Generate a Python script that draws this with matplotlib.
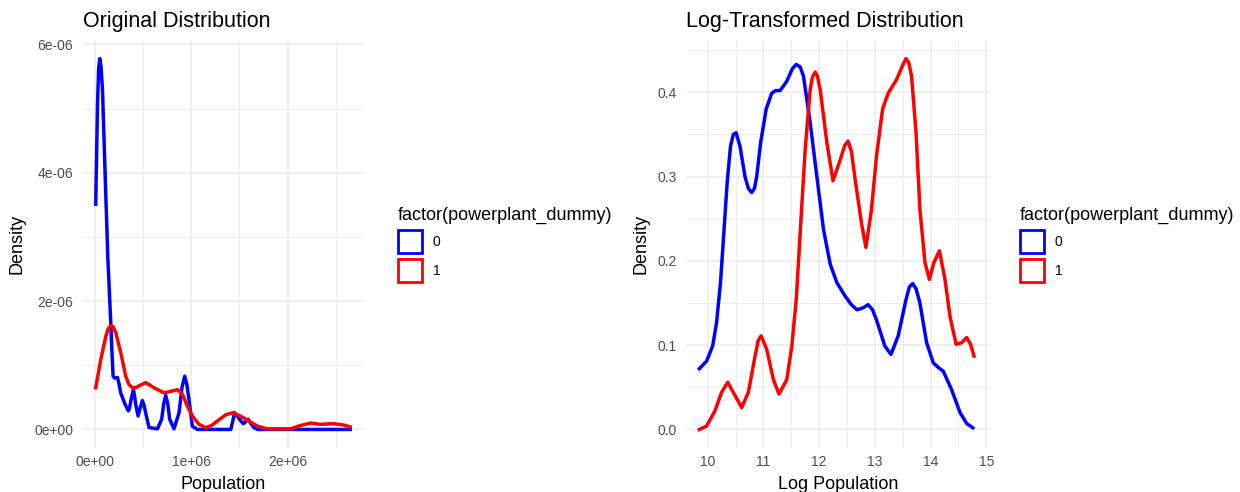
import matplotlib.pyplot as plt
from matplotlib.patches import Patch

plt.rcParams['font.family'] = ['Liberation Sans', 'DejaVu Sans']

# density of raw population (x in millions, y in 1e-6), group 0 / group 1
pop_x0 = [0.010, 0.028, 0.040, 0.052, 0.065, 0.080, 0.107, 0.135, 0.166, 0.180, 0.190,
          0.205, 0.235, 0.250, 0.269, 0.314, 0.349, 0.362, 0.373, 0.401, 0.413, 0.425,
          0.449, 0.470, 0.494, 0.510, 0.528, 0.563, 0.650, 0.694, 0.715, 0.736, 0.757,
          0.777, 0.822, 0.874, 0.905, 0.933, 0.955, 0.977, 1.012, 1.064, 1.41, 1.43,
          1.45, 1.47, 1.495, 1.54, 1.565, 1.59, 1.62, 1.65, 1.69, 2.65]
pop_y0 = [3.51, 5.04, 5.62, 5.78, 5.65, 5.30, 4.00, 2.70, 1.66, 1.15, 0.83,
          0.80, 0.81, 0.72, 0.57, 0.39, 0.29, 0.34, 0.44, 0.62, 0.52, 0.39,
          0.21, 0.33, 0.45, 0.38, 0.26, 0.03, 0.01, 0.16, 0.40, 0.53, 0.40,
          0.16, 0.01, 0.26, 0.66, 0.83, 0.70, 0.47, 0.05, 0.0, 0.0, 0.12,
          0.26, 0.23, 0.17, 0.09, 0.12, 0.16, 0.09, 0.03, 0.0, 0.0]
pop_x1 = [0.010, 0.062, 0.114, 0.140, 0.166, 0.190, 0.218, 0.269, 0.321, 0.355, 0.39,
          0.425, 0.459, 0.528, 0.615, 0.718, 0.805, 0.857, 0.909, 0.961, 1.012, 1.081,
          1.15, 1.21, 1.27, 1.36, 1.43, 1.51, 1.60, 1.69, 1.79, 2.03, 2.13, 2.24, 2.34,
          2.48, 2.58, 2.65]
pop_y1 = [0.65, 1.09, 1.45, 1.57, 1.62, 1.60, 1.51, 1.20, 0.83, 0.70, 0.65,
          0.65, 0.68, 0.73, 0.65, 0.57, 0.60, 0.62, 0.55, 0.36, 0.21, 0.08,
          0.03, 0.06, 0.13, 0.23, 0.26, 0.21, 0.13, 0.05, 0.01, 0.01, 0.06, 0.10, 0.08,
          0.09, 0.07, 0.04]

# density of log population, group 0 / group 1
log_x0 = [9.85, 9.98, 10.09, 10.16, 10.23, 10.29, 10.35, 10.41, 10.46, 10.51, 10.58, 10.67,
          10.73, 10.79, 10.84, 10.88, 10.95, 11.05, 11.15, 11.22, 11.30, 11.42, 11.52,
          11.59, 11.66, 11.72, 11.84, 11.96, 12.08, 12.20, 12.32, 12.47, 12.58, 12.68,
          12.78, 12.88, 12.96, 13.03, 13.18, 13.29, 13.42, 13.56, 13.62, 13.68, 13.74,
          13.81, 13.93, 14.05, 14.15, 14.23, 14.38, 14.53, 14.65, 14.76]
log_y0 = [0.072, 0.081, 0.099, 0.127, 0.174, 0.233, 0.293, 0.336, 0.350, 0.352, 0.336, 0.300,
          0.286, 0.281, 0.286, 0.300, 0.340, 0.380, 0.399, 0.402, 0.402, 0.413, 0.428,
          0.433, 0.430, 0.419, 0.364, 0.300, 0.237, 0.196, 0.174, 0.158, 0.148, 0.142,
          0.144, 0.148, 0.142, 0.130, 0.099, 0.089, 0.111, 0.154, 0.169, 0.173, 0.167,
          0.150, 0.103, 0.079, 0.073, 0.069, 0.047, 0.020, 0.007, 0.002]
log_x1 = [9.85, 9.98, 10.13, 10.25, 10.36, 10.46, 10.61, 10.73, 10.85, 10.91, 10.96, 11.06,
          11.18, 11.28, 11.42, 11.51, 11.59, 11.66, 11.75, 11.84, 11.88, 11.93, 11.97,
          12.02, 12.14, 12.25, 12.38, 12.46, 12.52, 12.58, 12.64, 12.76, 12.84, 12.94,
          13.03, 13.14, 13.24, 13.39, 13.50, 13.56, 13.61, 13.66, 13.74, 13.81, 13.90,
          13.98, 14.06, 14.16, 14.26, 14.35, 14.46, 14.56, 14.65, 14.72, 14.78]
log_y1 = [0.0, 0.004, 0.022, 0.044, 0.056, 0.044, 0.026, 0.044, 0.087, 0.106, 0.111, 0.095,
          0.059, 0.042, 0.059, 0.099, 0.154, 0.233, 0.332, 0.403, 0.418, 0.424, 0.419,
          0.403, 0.340, 0.295, 0.320, 0.337, 0.342, 0.330, 0.300, 0.245, 0.216, 0.261,
          0.324, 0.380, 0.399, 0.415, 0.432, 0.440, 0.435, 0.419, 0.352, 0.261, 0.198,
          0.178, 0.198, 0.212, 0.178, 0.134, 0.101, 0.103, 0.109, 0.101, 0.087]

groups = ['0', '1']
colors = ['#0000FF', '#FF0000']

pop_ticks = [0.0, 1.0, 2.0]
pop_ticklabels = ['0e+00', '1e+06', '2e+06']
pop_yticks = [0, 2, 4, 6]
pop_yticklabels = ['0e+00', '2e-06', '4e-06', '6e-06']
log_ticks = [10, 11, 12, 13, 14, 15]
log_yticks = [0.0, 0.1, 0.2, 0.3, 0.4]
log_yticklabels = ['0.0', '0.1', '0.2', '0.3', '0.4']

W, H = 1240, 492
fig = plt.figure(figsize=(W / 100, H / 100), dpi=100)

grid_col = '#EBEBEB'
tick_col = '#4D4D4D'


def style_axes(ax, xmaj, xmin, ymaj, ymin):
    for s in ax.spines.values():
        s.set_visible(False)
    ax.set_xticks(xmaj)
    ax.set_xticks(xmin, minor=True)
    ax.set_yticks(ymaj)
    ax.set_yticks(ymin, minor=True)
    ax.grid(True, which='major', color=grid_col, lw=1.1)
    ax.grid(True, which='minor', color=grid_col, lw=0.6)
    ax.set_axisbelow(True)
    ax.tick_params(which='both', length=0, labelsize=10, labelcolor=tick_col)
    ax.tick_params(axis='y', pad=7)
    ax.tick_params(axis='x', pad=5)


def add_legend(ax, fx):
    handles = [Patch(facecolor='white', edgecolor=c, lw=2.0) for c in colors]
    leg = ax.legend(handles, groups, title='factor(powerplant_dummy)', loc='upper left',
                    bbox_to_anchor=(fx / W, 1 - 200 / H), bbox_transform=fig.transFigure,
                    frameon=False, borderpad=0, fontsize=10, title_fontsize=13,
                    handlelength=1.75, handleheight=2.2, labelspacing=0.42,
                    handletextpad=0.75, alignment='left')
    return leg


# left panel: raw population
ax1 = fig.add_axes([83 / W, 1 - 448 / H, 280 / W, 408 / H])
style_axes(ax1, pop_ticks, [0.5, 1.5, 2.5], pop_yticks, [1, 3, 5])
ax1.plot(pop_x0, pop_y0, color=colors[0], lw=2.5, solid_joinstyle='round')
ax1.plot(pop_x1, pop_y1, color=colors[1], lw=2.5, solid_joinstyle='round')
ax1.set_xlim(-0.122, 2.782)
ax1.set_ylim(-0.289, 6.07)
ax1.set_xticklabels(pop_ticklabels)
ax1.set_yticklabels(pop_yticklabels)
ax1.set_title('Original Distribution', loc='left', fontsize=15.5, pad=9)
ax1.set_xlabel('Population', fontsize=13, labelpad=5)
ax1.set_ylabel('Density', fontsize=13, labelpad=6)
add_legend(ax1, 391)

# right panel: log population
ax2 = fig.add_axes([686.5 / W, 1 - 448 / H, 302.5 / W, 408 / H])
style_axes(ax2, log_ticks, [10.5, 11.5, 12.5, 13.5, 14.5], log_yticks,
           [0.05, 0.15, 0.25, 0.35, 0.45])
ax2.plot(log_x0, log_y0, color=colors[0], lw=2.5, solid_joinstyle='round')
ax2.plot(log_x1, log_y1, color=colors[1], lw=2.5, solid_joinstyle='round')
ax2.set_xlim(9.62, 15.05)
ax2.set_ylim(-0.022, 0.462)
ax2.set_yticklabels(log_yticklabels)
ax2.set_title('Log-Transformed Distribution', loc='left', fontsize=15.5, pad=9)
ax2.set_xlabel('Log Population', fontsize=13, labelpad=5)
ax2.set_ylabel('Density', fontsize=13, labelpad=6)
add_legend(ax2, 1013)

fig.savefig('out.png', dpi=100)
